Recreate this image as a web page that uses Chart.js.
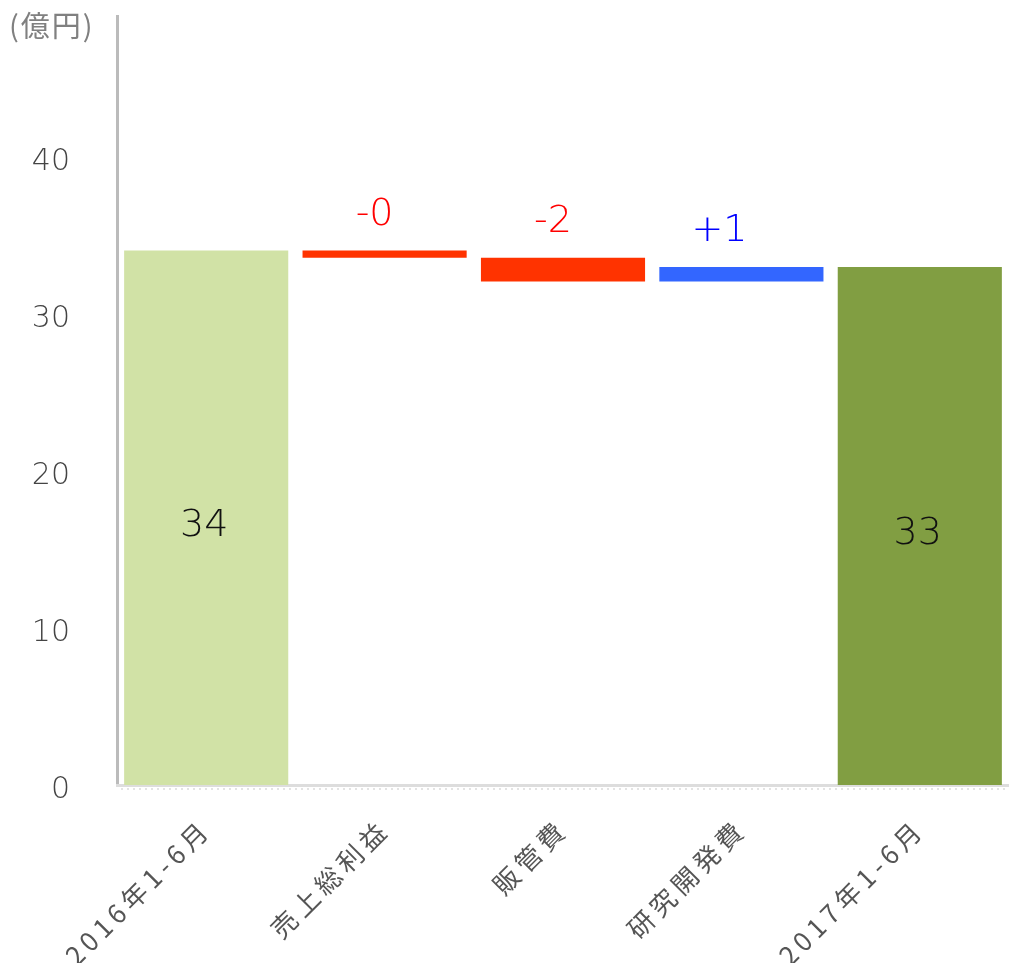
<!DOCTYPE html>
<html><head><meta charset="utf-8">
<script src="https://cdn.jsdelivr.net/npm/chart.js@4/dist/chart.umd.min.js"></script>
<style>html,body{margin:0;padding:0;background:#fff}#wrap{width:1009px;height:963px}</style>
</head><body><div id="wrap"><canvas id="c" width="1009" height="963"></canvas></div>
<script>
const categories = ['2016年1-6月','売上総利益','販管費','研究開発費','2017年1-6月'];
const startValue = 34.05;
const changes = [-0.45, -1.52, 0.92];
const yTicks = [0, 10, 20, 30, 40];
const unitLabel = '(億円)';

// build floating bars
const ranges = [[0, startValue]];
let run = startValue;
changes.forEach(d => { const nxt = run + d; ranges.push([Math.min(run, nxt), Math.max(run, nxt)]); run = nxt; });
const endValue = run;
ranges.push([0, endValue]);
const kinds = ['start', ...changes.map(d => d < 0 ? 'down' : 'up'), 'end'];
const values = [startValue, ...changes, endValue];
const fill = {start:'#d1e2a6', end:'#819e42', down:'#ff3300', up:'#3366ff'};
const textCol = {start:'#111', end:'#111', down:'#ff0000', up:'#0000ff'};
const labelShift = {down:-10, up:-22};

const labelPlugin = {
  id:'wfLabels',
  afterDatasetsDraw(chart){
    const ctx = chart.ctx;
    const meta = chart.getDatasetMeta(0);
    ctx.save();
    meta.data.forEach((el, i) => {
      const top = Math.min(el.y, el.base), bot = Math.max(el.y, el.base);
      const k = kinds[i];
      ctx.fillStyle = textCol[k];
      ctx.textAlign = 'center';
      ctx.font = '300 38px "DejaVu Sans"';
      if (k === 'start' || k === 'end') {
        ctx.textBaseline = 'middle';
        ctx.fillText(values[i].toFixed(0), el.x - 2, (top + bot) / 2 + 8);
      } else {
        ctx.textBaseline = 'alphabetic';
        const v = values[i];
        const s = (v > 0 ? '+' : '') + v.toFixed(0);
        ctx.fillText(s, el.x + labelShift[k], top - 26);
      }
    });
    ctx.restore();
  }
};
const decoPlugin = {
  id:'deco',
  beforeDraw(chart){
    const xs = chart.scales.x;
    if (xs && !xs._lsPatched) {
      const orig = xs.drawLabels;
      xs.drawLabels = function(a){ const c = this.ctx; c.save(); c.letterSpacing = '5px'; orig.call(this, a); c.restore(); };
      xs._lsPatched = true;
    }
  },
  afterDraw(chart){
    const ctx = chart.ctx, a = chart.chartArea;
    ctx.save();
    ctx.fillStyle = '#808080';
    ctx.font = '29px "Noto Sans CJK JP"';
    ctx.letterSpacing = '2px';
    ctx.textBaseline = 'middle';
    ctx.textAlign = 'left';
    ctx.fillText(unitLabel, 9, 26);
    ctx.letterSpacing = '0px';
    ctx.strokeStyle = '#e3e3e3';
    ctx.lineWidth = 2;
    ctx.setLineDash([2, 4]);
    ctx.beginPath();
    ctx.moveTo(a.left + 4, a.bottom + 4);
    ctx.lineTo(a.right, a.bottom + 4);
    ctx.stroke();
    ctx.restore();
  }
};

function noPad(s){ s.paddingTop = 0; s.paddingBottom = 0; s.paddingLeft = 0; s.paddingRight = 0; }

new Chart(document.getElementById('c'), {
  type:'bar',
  data:{ labels: categories, datasets:[{ data: ranges, backgroundColor: kinds.map(k => fill[k]), borderWidth:0, barPercentage:0.92, categoryPercentage:1 }]},
  options:{
    responsive:false, animation:false,
    layout:{padding:{top:16, right:-6, left:0, bottom:0}},
    plugins:{legend:{display:false}, tooltip:{enabled:false}},
    scales:{
      y:{
        min:0, max:49,
        afterBuildTicks(s){ s.ticks = yTicks.map(v => ({value:v})); },
        afterFit(s){ s.width = 117; noPad(s); },
        grid:{display:false, drawTicks:false},
        border:{display:true, color:'#bbbbbb', width:3},
        ticks:{padding:47, labelOffset:5, color:'#444', font:{family:'"DejaVu Sans"', size:30, weight:'300'}}
      },
      x:{
        afterFit(s){ s.height = 178; noPad(s); },
        grid:{display:false, drawTicks:false},
        border:{display:true, color:'#dddddd', width:3},
        ticks:{minRotation:45, maxRotation:45, padding:28, color:'#555', autoSkip:false, font:{family:'"Noto Sans CJK JP"', size:26}}
      }
    }
  },
  plugins:[labelPlugin, decoPlugin]
});
</script></body></html>
